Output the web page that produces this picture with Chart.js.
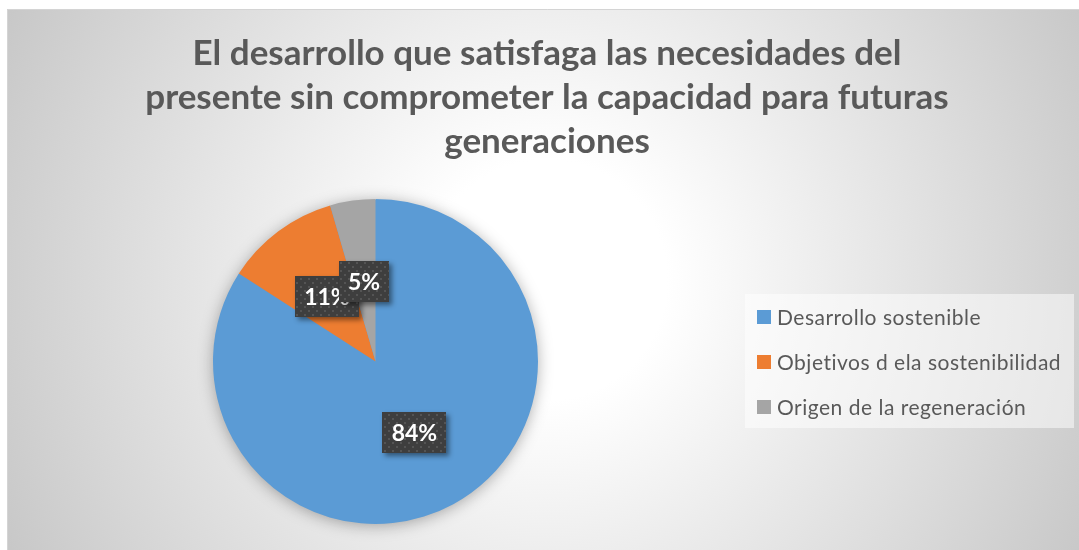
<!DOCTYPE html>
<html><head><meta charset="utf-8">
<script src="https://cdn.jsdelivr.net/npm/chart.js@4.4.0/dist/chart.umd.min.js"></script>
<style>
html,body{margin:0;padding:0;overflow:hidden;background:#fff;width:1079px;height:550px;}
#wrap{position:absolute;left:7px;top:9px;width:1080px;height:541px;}
canvas{display:block;}
</style></head><body>
<div id="wrap"><canvas id="c" width="1080" height="541"></canvas></div>
<script>
const titleLines = [
  "El desarrollo que satisfaga las necesidades del",
  "presente sin comprometer la capacidad para futuras",
  "generaciones"
];
const categories = ["Desarrollo sostenible", "Objetivos d ela sostenibilidad", "Origen de la regeneración"];
const values = [84.1, 11.4, 4.5];
const colors = ["#5B9BD5", "#ED7D31", "#A5A5A5"];

const bgPlugin = {
  id: 'bg',
  beforeDraw(chart) {
    const ctx = chart.ctx, w = chart.width, h = chart.height;
    ctx.save();
    const g = ctx.createRadialGradient(540, 271, 0, 540, 271, 600);
    g.addColorStop(0, '#ffffff');
    g.addColorStop(0.2, '#ffffff');
    g.addColorStop(1, '#c8c8c8');
    ctx.fillStyle = g;
    ctx.fillRect(0, 0, w, h);
    ctx.strokeStyle = '#d4d4d4';
    ctx.lineWidth = 1;
    ctx.beginPath();
    ctx.moveTo(0.5, h); ctx.lineTo(0.5, 0.5); ctx.lineTo(w, 0.5);
    ctx.stroke();
    ctx.restore();
  }
};

const titlePlugin = {
  id: 'bigTitle',
  afterDraw(chart) {
    const ctx = chart.ctx;
    ctx.save();
    ctx.font = 'bold 35px Lato';
    ctx.fillStyle = '#595959';
    ctx.textAlign = 'center';
    ctx.textBaseline = 'alphabetic';
    titleLines.forEach((t, i) => ctx.fillText(t, 540, 56 + i * 44));
    ctx.restore();
  }
};

const shadowPlugin = {
  id: 'pieShadow',
  beforeDatasetsDraw(chart) {
    const arc = chart.getDatasetMeta(0).data[0];
    if (!arc) return;
    const ctx = chart.ctx;
    ctx.save();
    ctx.shadowColor = 'rgba(0,0,0,0.35)';
    ctx.shadowBlur = 16;
    ctx.shadowOffsetX = 0;
    ctx.shadowOffsetY = 2;
    ctx.fillStyle = colors[0];
    ctx.beginPath();
    ctx.arc(arc.x, arc.y, arc.outerRadius - 1, 0, Math.PI * 2);
    ctx.fill();
    ctx.restore();
  }
};

function makePattern(ctx) {
  const p = document.createElement('canvas');
  p.width = 8; p.height = 8;
  const c = p.getContext('2d');
  c.fillStyle = '#3e3e3e';
  c.fillRect(0, 0, 8, 8);
  c.fillStyle = '#545454';
  c.fillRect(1, 1, 2, 2);
  c.fillRect(5, 5, 2, 2);
  return ctx.createPattern(p, 'repeat');
}

const labelPlugin = {
  id: 'boxLabels',
  afterDatasetsDraw(chart) {
    const ctx = chart.ctx;
    const meta = chart.getDatasetMeta(0);
    const data = chart.data.datasets[0].data;
    const total = data.reduce((a, b) => a + b, 0);
    const pat = makePattern(ctx);
    ctx.save();
    ctx.font = 'bold 23px Lato';
    meta.data.forEach((arc, i) => {
      const pos = arc.tooltipPosition();
      const txt = Math.round(data[i] / total * 100) + '%';
      const tw = ctx.measureText(txt).width;
      const bw = Math.round(tw + 18), bh = 41;
      const bx = Math.round(pos.x - bw / 2), by = Math.round(pos.y - bh / 2);
      ctx.save();
      ctx.shadowColor = 'rgba(0,0,0,0.45)';
      ctx.shadowBlur = 5;
      ctx.shadowOffsetX = 3;
      ctx.shadowOffsetY = 3;
      ctx.fillStyle = '#3e3e3e';
      ctx.fillRect(bx, by, bw, bh);
      ctx.restore();
      ctx.fillStyle = pat;
      ctx.fillRect(bx, by, bw, bh);
      ctx.fillStyle = '#ffffff';
      ctx.textAlign = 'center';
      ctx.textBaseline = 'middle';
      ctx.fillText(txt, pos.x, by + bh / 2 + 1);
    });
    ctx.restore();
  }
};

const legendPlugin = {
  id: 'sideLegend',
  afterDraw(chart) {
    const ctx = chart.ctx;
    const bg = chart.data.datasets[0].backgroundColor;
    ctx.save();
    ctx.fillStyle = 'rgba(255,255,255,0.5)';
    ctx.fillRect(738, 285, 329, 134);
    ctx.font = '21px Lato';
    ctx.letterSpacing = '0.5px';
    ctx.textBaseline = 'middle';
    ctx.textAlign = 'left';
    chart.data.labels.forEach((lab, i) => {
      const cy = 308 + i * 45;
      ctx.fillStyle = bg[i];
      ctx.fillRect(750, cy - 7, 14, 14);
      ctx.fillStyle = '#595959';
      ctx.fillText(lab, 770, cy + 1);
    });
    ctx.restore();
  }
};

new Chart(document.getElementById('c'), {
  type: 'pie',
  data: {
    labels: categories,
    datasets: [{
      data: values,
      backgroundColor: colors,
      borderWidth: 0
    }]
  },
  options: {
    responsive: false,
    animation: false,
    events: [],
    devicePixelRatio: 1,
    layout: { padding: { left: 206, right: 549, top: 190, bottom: 26 } },
    plugins: {
      legend: { display: false },
      tooltip: { enabled: false },
      title: { display: false }
    }
  },
  plugins: [bgPlugin, shadowPlugin, labelPlugin, legendPlugin, titlePlugin]
});
</script>
</body></html>
